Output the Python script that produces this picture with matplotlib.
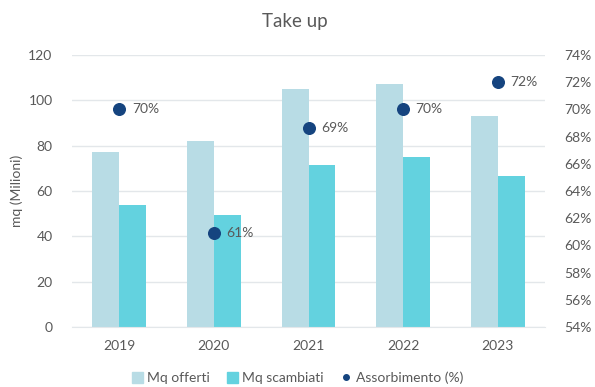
import matplotlib.pyplot as plt
import numpy as np
from matplotlib.lines import Line2D
from matplotlib.patches import Patch

plt.rcParams["font.family"] = ["Lato", "DejaVu Sans"]

years = ["2019", "2020", "2021", "2022", "2023"]
mq_offerti = [77, 82, 105, 107, 93]
mq_scambiati = [54, 49.5, 71.5, 75, 66.5]
assorbimento = [70.0, 60.9, 68.6, 70.0, 72.0]

c_offerti = "#b8dce5"
c_scambiati = "#63d2df"
c_dot = "#15447f"
c_text = "#595959"
c_grid = "#e3e7ea"

fig = plt.figure(figsize=(5.95, 3.87), dpi=100)
ax = fig.add_axes([0.121, 0.155, 0.795, 0.703])
ax2 = ax.twinx()

x = np.arange(len(years))
w = 0.285
ax.bar(x - w / 2, mq_offerti, w, color=c_offerti, zorder=2)
ax.bar(x + w / 2, mq_scambiati, w, color=c_scambiati, zorder=2)

ax.set_xlim(-0.5, len(years) - 0.5)
ax.set_ylim(0, 120)
ax.set_yticks(range(0, 121, 20))
ax.set_xticks(x)
ax.set_xticklabels(years)
ax.yaxis.grid(True, color=c_grid, linewidth=1.0, zorder=0)
ax.set_axisbelow(True)
ax.set_ylabel("mq (Milioni)", color=c_text, fontsize=10, labelpad=4)

ax2.scatter(x, assorbimento, s=70, color=c_dot, zorder=3)
for xi, v in zip(x, assorbimento):
    ax2.annotate(f"{v:.0f}%", (xi, v), xytext=(9, 0), textcoords="offset points",
                 va="center", ha="left", color=c_text, fontsize=10)
ax2.set_ylim(54, 74)
ax2.set_yticks(range(54, 75, 2))
ax2.set_yticklabels([f"{t}%" for t in range(54, 75, 2)])

for a in (ax, ax2):
    for s in a.spines.values():
        s.set_visible(False)
    a.tick_params(length=0, colors=c_text, labelsize=10)
ax.tick_params(axis="x", pad=9)
ax.tick_params(axis="y", pad=14)
ax2.tick_params(axis="y", pad=14)
ax.spines["bottom"].set_visible(True)
ax.spines["bottom"].set_color(c_grid)

fig.text(0.495, 0.945, "Take up", color=c_text, fontsize=13.5,
         ha="center", va="center")

handles = [
    Patch(color=c_offerti, label="Mq offerti"),
    Patch(color=c_scambiati, label="Mq scambiati"),
    Line2D([], [], marker="o", linestyle="none", color=c_dot, markersize=4,
           label="Assorbimento (%)"),
]
fig.legend(handles=handles, loc="lower center", ncol=3, frameon=False,
           fontsize=10, labelcolor=c_text, bbox_to_anchor=(0.5, -0.025),
           handlelength=0.8, handleheight=0.8, handletextpad=0.3, columnspacing=1.2)

fig.savefig("out.png", dpi=100)
